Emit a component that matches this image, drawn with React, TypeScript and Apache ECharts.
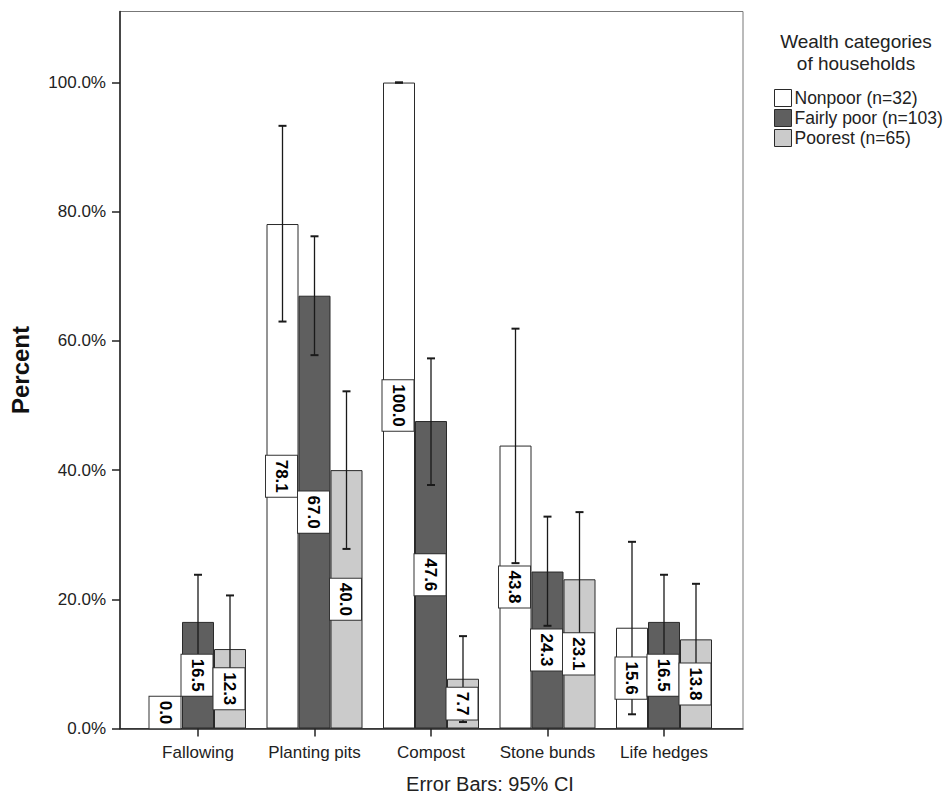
import React, { useEffect, useRef } from "react";
import * as echarts from "echarts";

// ---------- data ----------
const categories = ["Fallowing", "Planting pits", "Compost", "Stone bunds", "Life hedges"];
const groupNames = ["Nonpoor (n=32)", "Fairly poor (n=103)", "Poorest (n=65)"];

const nonpoor = [0.0, 78.1, 100.0, 43.8, 15.6];
const fairlyPoor = [16.5, 67.0, 47.6, 24.3, 16.5];
const poorest = [12.3, 40.0, 7.7, 23.1, 13.8];

// 95% CI bounds
const nonpoorLow = [0.0, 63.0, 100.0, 25.6, 2.2];
const nonpoorHigh = [0.0, 93.3, 100.0, 61.9, 28.9];
const fairlyPoorLow = [9.2, 57.8, 37.7, 15.9, 9.2];
const fairlyPoorHigh = [23.8, 76.2, 57.3, 32.8, 23.8];
const poorestLow = [4.3, 27.8, 1.0, 12.7, 5.2];
const poorestHigh = [20.6, 52.2, 14.3, 33.5, 22.4];

const yTicks = [0, 20, 40, 60, 80, 100];
const yMax = 111;

// ---------- style ----------
const FONT = "'Liberation Sans', Arial, Helvetica, sans-serif";
const BAR_W = 32;
const colors = ["#ffffff", "#5f5f5f", "#cbcbcb"];
const EDGE = "#2a2a2a";

export default function App() {
  const ref = useRef<HTMLDivElement>(null);

  useEffect(() => {
    if (!ref.current) return;
    const chart = echarts.init(ref.current, undefined, { renderer: "svg" });

    const values = [nonpoor, fairlyPoor, poorest];
    const lows = [nonpoorLow, fairlyPoorLow, poorestLow];
    const highs = [nonpoorHigh, fairlyPoorHigh, poorestHigh];

    const barSeries = values.map((vals, k) => ({
      type: "bar",
      name: groupNames[k],
      xAxisIndex: 1,
      yAxisIndex: 1,
      barWidth: BAR_W,
      barGap: "0%",
      z: 2,
      itemStyle: { color: colors[k], borderColor: EDGE, borderWidth: 1 },
      data: vals,
    }));

    const errSeries = values.map((vals, k) => ({
      type: "custom",
      xAxisIndex: 1,
      yAxisIndex: 1,
      z: 5,
      clip: false,
      encode: { x: 0, y: [1, 2] },
      data: categories.map((_, i) => [i, lows[k][i], highs[k][i], vals[i]]),
      renderItem: (params: any, api: any) => {
        const i = api.value(0);
        const lo = api.value(1);
        const hi = api.value(2);
        const v = api.value(3);
        const base = api.coord([i, 0]);
        const cx = base[0] + (k - 1) * BAR_W;
        const y0 = base[1];
        const yLo = api.coord([i, lo])[1];
        const yHi = api.coord([i, hi])[1];
        let yMid = api.coord([i, v / 2])[1];
        if (y0 - yMid < 16) yMid = y0 - 16;
        const children: any[] = [];
        const ls = { stroke: "#1a1a1a", lineWidth: 1.3 };
        if (!(lo === 0 && hi === 0)) {
          children.push({ type: "line", shape: { x1: cx, y1: yLo, x2: cx, y2: yHi }, style: ls });
          children.push({ type: "line", shape: { x1: cx - 4, y1: yHi, x2: cx + 4, y2: yHi }, style: { stroke: "#1a1a1a", lineWidth: 2 } });
          children.push({ type: "line", shape: { x1: cx - 4, y1: yLo, x2: cx + 4, y2: yLo }, style: { stroke: "#1a1a1a", lineWidth: 2 } });
        }
        children.push({
          type: "text",
          x: cx - 1,
          y: yMid,
          rotation: -Math.PI / 2,
          style: {
            text: v.toFixed(1),
            fill: "#000",
            fontSize: 17,
            fontWeight: "bold",
            fontFamily: FONT,
            align: "center",
            verticalAlign: "middle",
            backgroundColor: "#ffffff",
            borderColor: "#333",
            borderWidth: 1,
            padding: [7, 4],
          },
        });
        return { type: "group", children };
      },
    }));

    const option: any = {
      animation: false,
      backgroundColor: "#ffffff",
      textStyle: { fontFamily: FONT },
      grid: [
        { left: 119, right: 205, top: 11.5, bottom: 68.5, show: true, borderColor: "#777", borderWidth: 1 },
        { left: 139.75, right: 225.75, top: 11.5, bottom: 68.5, show: false },
      ],
      xAxis: [
        {
          gridIndex: 0,
          type: "value",
          min: 0,
          max: 1,
          axisLine: { show: true, onZero: false, lineStyle: { color: "#222", width: 1.5 } },
          axisTick: { show: false },
          axisLabel: { show: false },
          splitLine: { show: false },
        },
        {
          gridIndex: 1,
          type: "category",
          data: categories,
          axisLine: { show: false },
          axisTick: { show: true, alignWithLabel: true, length: 8, lineStyle: { color: "#222", width: 1.5 } },
          axisLabel: { interval: 0, fontSize: 17, color: "#222", margin: 15, fontFamily: FONT },
          splitLine: { show: false },
        },
      ],
      yAxis: [
        {
          gridIndex: 0,
          type: "value",
          min: 0,
          max: yMax,
          name: "Percent",
          nameLocation: "middle",
          nameGap: 88,
          nameTextStyle: { fontSize: 24, fontWeight: "bold", color: "#111", fontFamily: FONT },
          axisLine: { show: true, onZero: false, lineStyle: { color: "#222", width: 1.5 } },
          axisTick: { show: true, length: 8, customValues: yTicks, lineStyle: { color: "#222", width: 1.5 } },
          axisLabel: {
            customValues: yTicks,
            fontSize: 17,
            color: "#222",
            margin: 14,
            fontFamily: FONT,
            formatter: (v: number) => v.toFixed(1) + "%",
          },
          splitLine: { show: false },
        },
        {
          gridIndex: 1,
          type: "value",
          min: 0,
          max: yMax,
          show: false,
        },
      ],
      legend: {
        data: groupNames,
        orient: "vertical",
        left: 774,
        top: 89,
        padding: 0,
        itemGap: 2,
        itemWidth: 17,
        itemHeight: 17,
        icon: "rect",
        itemStyle: { borderColor: EDGE, borderWidth: 1 },
        textStyle: { fontSize: 17.5, color: "#222", fontFamily: FONT, padding: [0, 0, 0, -2] },
      },
      graphic: [
        {
          type: "text",
          x: 856,
          y: 30,
          style: {
            text: "Wealth categories\nof households",
            fontSize: 19,
            lineHeight: 22,
            fill: "#222",
            fontFamily: FONT,
            align: "center",
            verticalAlign: "top",
          },
        },
        {
          type: "text",
          x: 490,
          y: 784,
          style: {
            text: "Error Bars: 95% CI",
            fontSize: 20,
            fill: "#222",
            fontFamily: FONT,
            align: "center",
            verticalAlign: "middle",
          },
        },
      ],
      series: [...barSeries, ...errSeries],
    };

    chart.setOption(option);
    return () => chart.dispose();
  }, []);

  return (
    <div
      ref={ref}
      style={{ position: "fixed", left: 0, top: 0, width: 948, height: 797, background: "#fff" }}
    />
  );
}
